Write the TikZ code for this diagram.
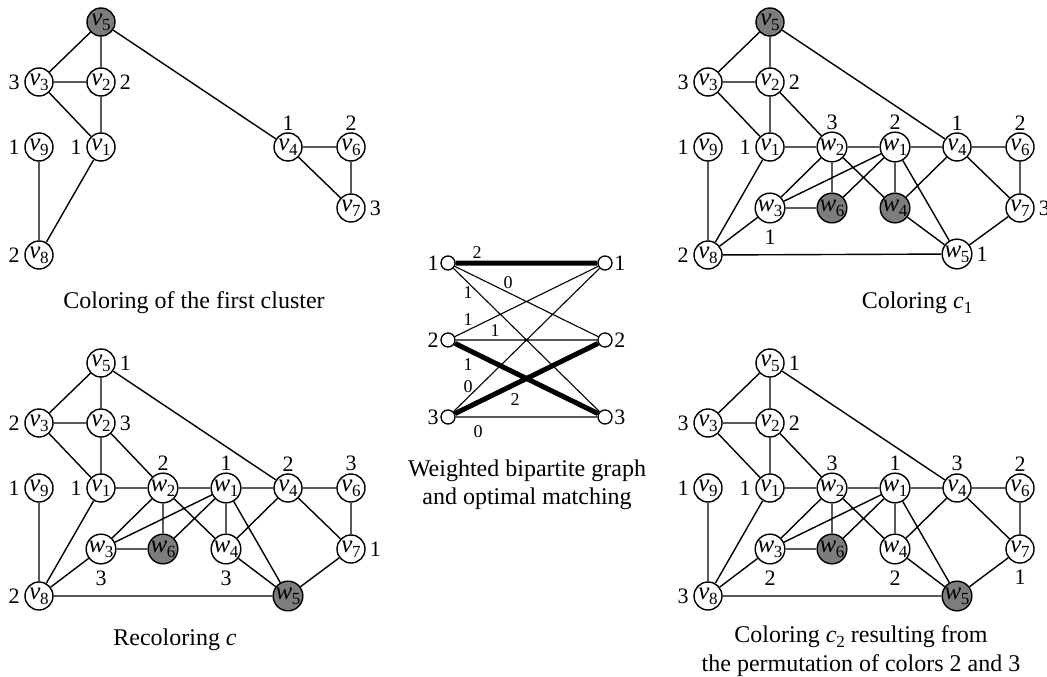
\documentclass[tikz,border=0pt]{standalone}
\usepackage{fontspec}
\setmainfont{Liberation Serif}
\definecolor{nodegray}{RGB}{125,125,125}
\newcommand\nodefont{\fontsize{25}{25}\selectfont}
\newcommand\labfont{\fontsize{22}{22}\selectfont}
\newcommand\wtfont{\fontsize{18}{18}\selectfont}
\newcommand\capfont{\fontsize{24}{28}\selectfont}
\newcommand\sbs[1]{\raisebox{-5pt}{\fontsize{17}{17}\selectfont #1}}
\newcommand\nv[1]{\textit{v}\kern-0.5pt\sbs{#1}}
\newcommand\nw[1]{\textit{w}\kern-0.5pt\sbs{#1}}
\tikzset{
  vtx/.style={circle, draw, line width=1.4pt, minimum size=28pt, inner sep=0pt, fill=white, font=\nodefont},
  gvtx/.style={vtx, fill=nodegray},
  lab/.style={inner sep=0pt, font=\labfont},
  cl/.style={label={[lab, label distance=4.5pt]left:#1}},
  cr/.style={label={[lab, label distance=4pt]right:#1}},
  ca/.style={label={[lab, label distance=2pt]above:#1}},
  cb/.style={label={[lab, label distance=6pt]below:#1}},
  edge/.style={line width=1.4pt},
  bn/.style={circle, draw, line width=1.3pt, minimum size=14pt, inner sep=0pt, fill=white},
  bthin/.style={line width=1.1pt},
  bthick/.style={line width=5pt},
  wt/.style={inner sep=0pt, font=\wtfont},
  captxt/.style={inner sep=0pt, font=\capfont, anchor=base},
}
\newcommand\fulledges[1]{%
  \draw[edge] (#1v5)--(#1v3) (#1v5)--(#1v2) (#1v5)--(#1v4) (#1v3)--(#1v2)
    (#1v3)--(#1v1) (#1v2)--(#1v1) (#1v2)--(#1w2) (#1v9)--(#1v8) (#1v1)--(#1v8)
    (#1v1)--(#1w2) (#1w2)--(#1w1) (#1w1)--(#1v4) (#1v4)--(#1v6) (#1v6)--(#1v7)
    (#1v4)--(#1v7) (#1v7)--(#1w5) (#1w2)--(#1w3) (#1w2)--(#1w6) (#1w2)--(#1w4)
    (#1w1)--(#1w3) (#1w1)--(#1w6) (#1w1)--(#1w4) (#1w1)--(#1w5) (#1v4)--(#1w4)
    (#1w4)--(#1w5) (#1w3)--(#1w6) (#1w3)--(#1v8) (#1v8)--(#1w5);}
\begin{document}
\begin{tikzpicture}[x=1pt, y=-1pt]
\useasboundingbox (0,0) rectangle (1047,677);

% ---------- top left: first cluster ----------
\begin{scope}[shift={(39,82)}]
\node[gvtx] (av5) at (62,-60) {\nv5};
\node[vtx, cl=3] (av3) at (0,0) {\nv3};
\node[vtx, cr=2] (av2) at (62,0) {\nv2};
\node[vtx, cl=1] (av9) at (0,65) {\nv9};
\node[vtx, cl=1] (av1) at (62,65) {\nv1};
\node[vtx, ca=1] (av4) at (249,65) {\nv4};
\node[vtx, ca=2] (av6) at (312,65) {\nv6};
\node[vtx, cr=3] (av7) at (312,126) {\nv7};
\node[vtx, cl=2] (av8) at (0,173) {\nv8};
\end{scope}
\draw[edge] (av5)--(av3) (av5)--(av2) (av5)--(av4) (av3)--(av2) (av3)--(av1)
  (av2)--(av1) (av9)--(av8) (av1)--(av8) (av4)--(av6) (av4)--(av7) (av6)--(av7);
\node[captxt] (capa) at (194,308) {Coloring of the first cluster};

% ---------- top right: coloring c1 ----------
\begin{scope}[shift={(708,82)}]
\node[gvtx] (bv5) at (62,-60) {\nv5};
\node[vtx, cl=3] (bv3) at (0,0) {\nv3};
\node[vtx, cr=2] (bv2) at (62,0) {\nv2};
\node[vtx, cl=1] (bv9) at (0,65) {\nv9};
\node[vtx, cl=1] (bv1) at (62,65) {\nv1};
\node[vtx, ca=3] (bw2) at (124,65) {\nw2};
\node[vtx, ca=2] (bw1) at (187,65) {\nw1};
\node[vtx, ca=1] (bv4) at (249,65) {\nv4};
\node[vtx, ca=2] (bv6) at (312,65) {\nv6};
\node[vtx, cb=1] (bw3) at (62,126) {\nw3};
\node[gvtx] (bw6) at (124,126) {\nw6};
\node[gvtx] (bw4) at (187,126) {\nw4};
\node[vtx, cr=3] (bv7) at (312,126) {\nv7};
\node[vtx, cl=2] (bv8) at (0,173) {\nv8};
\node[vtx, cr=1] (bw5) at (249,172) {\nw5};
\end{scope}
\fulledges{b}
\node[captxt] (capb) at (917,308) {Coloring \textit{c}\sbs{1}};

% ---------- bottom left: recoloring c ----------
\begin{scope}[shift={(39,423)}]
\node[vtx, cr=1] (cv5) at (62,-60) {\nv5};
\node[vtx, cl=2] (cv3) at (0,0) {\nv3};
\node[vtx, cr=3] (cv2) at (62,0) {\nv2};
\node[vtx, cl=1] (cv9) at (0,65) {\nv9};
\node[vtx, cl=1] (cv1) at (62,65) {\nv1};
\node[vtx, ca=2] (cw2) at (124,65) {\nw2};
\node[vtx, ca=1] (cw1) at (187,65) {\nw1};
\node[vtx, ca=2] (cv4) at (249,65) {\nv4};
\node[vtx, ca=3] (cv6) at (312,65) {\nv6};
\node[vtx, cb=3] (cw3) at (62,126) {\nw3};
\node[gvtx] (cw6) at (124,126) {\nw6};
\node[vtx, cb=3] (cw4) at (187,126) {\nw4};
\node[vtx, cr=1] (cv7) at (312,126) {\nv7};
\node[vtx, cl=2] (cv8) at (0,173) {\nv8};
\node[gvtx] (cw5) at (249,173) {\nw5};
\end{scope}
\fulledges{c}
\node[captxt] (capc) at (175,645) {Recoloring \textit{c}};

% ---------- bottom right: coloring c2 ----------
\begin{scope}[shift={(708,423)}]
\node[vtx, cr=1] (dv5) at (62,-60) {\nv5};
\node[vtx, cl=3] (dv3) at (0,0) {\nv3};
\node[vtx, cr=2] (dv2) at (62,0) {\nv2};
\node[vtx, cl=1] (dv9) at (0,65) {\nv9};
\node[vtx, cl=1] (dv1) at (62,65) {\nv1};
\node[vtx, ca=3] (dw2) at (124,65) {\nw2};
\node[vtx, ca=1] (dw1) at (187,65) {\nw1};
\node[vtx, ca=3] (dv4) at (249,65) {\nv4};
\node[vtx, ca=2] (dv6) at (312,65) {\nv6};
\node[vtx, cb=2] (dw3) at (62,126) {\nw3};
\node[gvtx] (dw6) at (124,126) {\nw6};
\node[vtx, cb=2] (dw4) at (187,126) {\nw4};
\node[vtx, cb=1] (dv7) at (312,126) {\nv7};
\node[vtx, cl=3] (dv8) at (0,173) {\nv8};
\node[gvtx] (dw5) at (249,173) {\nw5};
\end{scope}
\fulledges{d}
\node[captxt] (capd1) at (861,642) {Coloring \textit{c}\sbs{2} resulting from};
\node[captxt] (capd2) at (861,671) {the permutation of colors 2 and 3};

% ---------- middle: bipartite graph ----------
\node[bn, label={[lab, label distance=1.5pt]left:1}] (p1) at (448,263) {};
\node[bn, label={[lab, label distance=1.5pt]left:2}] (p2) at (448,340) {};
\node[bn, label={[lab, label distance=1.5pt]left:3}] (p3) at (448,417) {};
\node[bn, label={[lab, label distance=1.5pt]right:1}] (q1) at (605,263) {};
\node[bn, label={[lab, label distance=1.5pt]right:2}] (q2) at (605,340) {};
\node[bn, label={[lab, label distance=1.5pt]right:3}] (q3) at (605,417) {};
\draw[bthin] (p1)--(q2) (p1)--(q3) (p2)--(q1) (p2)--(q2) (p3)--(q1) (p3)--(q3);
\draw[bthick] (p1)--(q1) (p2)--(q3) (p3)--(q2);
\node[wt] (e11) at (477,253) {2};
\node[wt] (e12) at (508,283) {0};
\node[wt] (e13) at (468,293) {1};
\node[wt] (e21) at (468,320) {1};
\node[wt] (e22) at (495,331) {1};
\node[wt] (e23) at (468,365) {1};
\node[wt] (e31) at (468,387) {0};
\node[wt] (e32) at (515,400) {2};
\node[wt] (e33) at (478,432) {0};
\node[captxt] (cape1) at (527,476) {Weighted bipartite graph};
\node[captxt] (cape2) at (527,504) {and optimal matching};
\end{tikzpicture}
\end{document}
